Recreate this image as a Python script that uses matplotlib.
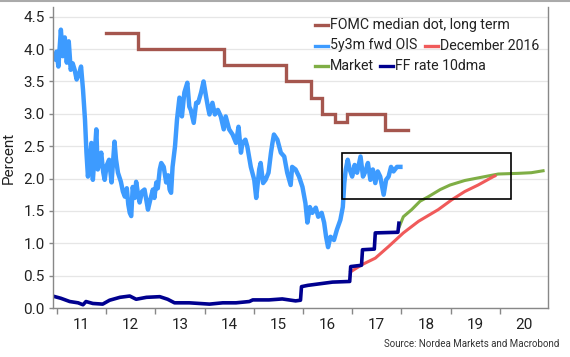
import matplotlib
matplotlib.use("Agg")
import matplotlib.pyplot as plt
from matplotlib.lines import Line2D
from matplotlib.patches import Rectangle

plt.rcParams['font.family'] = ['Roboto', 'DejaVu Sans']

# ---------------- data (decimal years, percent) ----------------
fomc_x = [2012.0, 2012.64, 2012.64, 2014.40, 2014.40, 2015.65, 2015.65, 2016.16, 2016.16,
          2016.38, 2016.38, 2016.65, 2016.65, 2016.89, 2016.89, 2017.66, 2017.66, 2018.13]
fomc_y = [4.25, 4.25, 4.0, 4.0, 3.75, 3.75, 3.5, 3.5, 3.25,
          3.25, 3.0, 3.0, 2.875, 2.875, 3.0, 3.0, 2.75, 2.75]

ois_x = [2010.96, 2010.99, 2011.03, 2011.08, 2011.12, 2011.16, 2011.20, 2011.24, 2011.28, 2011.32,
         2011.36, 2011.40, 2011.45, 2011.49, 2011.53, 2011.57, 2011.60, 2011.63, 2011.67, 2011.70,
         2011.73, 2011.77, 2011.80, 2011.83, 2011.87, 2011.90, 2011.94, 2011.97, 2012.01, 2012.06,
         2012.11, 2012.14, 2012.17, 2012.20, 2012.24, 2012.30, 2012.34, 2012.38, 2012.42, 2012.45,
         2012.48, 2012.51, 2012.54, 2012.58, 2012.61, 2012.65, 2012.68, 2012.73, 2012.78, 2012.81,
         2012.85, 2012.89, 2012.95, 2012.98, 2013.02, 2013.05, 2013.09, 2013.12, 2013.17, 2013.22,
         2013.26, 2013.29, 2013.32, 2013.35, 2013.40, 2013.44, 2013.49, 2013.54, 2013.59, 2013.65,
         2013.69, 2013.72, 2013.78, 2013.83, 2013.87, 2013.93, 2013.98, 2014.03, 2014.07, 2014.10,
         2014.16, 2014.21, 2014.27, 2014.33, 2014.39, 2014.43, 2014.50, 2014.57, 2014.64, 2014.69,
         2014.74, 2014.77, 2014.83, 2014.87, 2014.94, 2015.01, 2015.05, 2015.11, 2015.14, 2015.19,
         2015.24, 2015.30, 2015.35, 2015.38, 2015.41, 2015.48, 2015.55, 2015.62, 2015.68, 2015.75,
         2015.78, 2015.85, 2015.92, 2015.99, 2016.05, 2016.09, 2016.14, 2016.19, 2016.26, 2016.31,
         2016.38, 2016.43, 2016.47, 2016.51, 2016.56, 2016.63, 2016.69, 2016.76, 2016.81, 2016.84,
         2016.87, 2016.91, 2016.95, 2017.00, 2017.05, 2017.10, 2017.17, 2017.22, 2017.27, 2017.32,
         2017.37, 2017.42, 2017.47, 2017.52, 2017.57, 2017.64, 2017.69, 2017.74, 2017.79, 2017.84,
         2017.91, 2017.98]
ois_y = [3.84, 3.96, 3.73, 4.30, 3.89, 4.18, 3.79, 4.12, 3.68, 3.78,
         3.68, 3.53, 3.62, 3.73, 3.37, 2.91, 2.40, 2.03, 2.30, 2.55,
         1.98, 2.40, 2.76, 2.14, 2.25, 2.40, 2.10, 1.98, 2.20, 2.29,
         1.94, 2.25, 2.57, 2.30, 2.09, 1.95, 1.80, 1.72, 1.85, 1.60,
         1.47, 1.42, 1.87, 1.70, 1.95, 1.75, 1.63, 1.80, 1.83, 1.70,
         1.52, 1.65, 1.83, 1.70, 1.94, 1.85, 2.14, 2.24, 2.18, 1.94,
         2.05, 1.83, 1.78, 2.18, 2.50, 2.91, 3.25, 2.96, 3.33, 3.48,
         3.11, 3.06, 2.86, 3.17, 3.17, 3.33, 3.50, 3.27, 3.10, 2.99,
         3.17, 2.99, 3.06, 2.96, 2.76, 2.96, 2.76, 2.68, 2.55, 2.80,
         2.40, 2.55, 2.60, 2.49, 2.18, 1.98, 1.70, 2.14, 2.24, 1.93,
         1.98, 2.09, 2.40, 2.55, 2.68, 2.60, 2.40, 2.34, 2.09, 1.90,
         2.18, 2.14, 2.03, 1.87, 1.62, 1.32, 1.56, 1.47, 1.55, 1.41,
         1.47, 1.32, 1.10, 0.94, 1.10, 1.05, 1.21, 1.36, 1.56, 1.93,
         2.14, 2.29, 2.14, 2.03, 2.21, 2.09, 2.34, 2.03, 2.11, 2.24,
         1.98, 2.14, 1.93, 2.11, 2.03, 1.75, 1.98, 2.03, 2.18, 2.11,
         2.18, 2.18]

dec16_x = [2016.97, 2017.20, 2017.47, 2017.74, 2018.04, 2018.35, 2018.75, 2019.02,
           2019.29, 2019.56, 2019.87, 2019.90]
dec16_y = [0.56, 0.67, 0.77, 0.95, 1.16, 1.34, 1.52, 1.67, 1.80, 1.90, 2.03, 2.04]

market_x = [2017.96, 2018.04, 2018.21, 2018.38, 2018.55, 2018.79, 2018.99, 2019.29,
            2019.63, 2019.97, 2020.37, 2020.64, 2020.88]
market_y = [1.26, 1.41, 1.52, 1.65, 1.72, 1.83, 1.90, 1.97, 2.02, 2.07, 2.08, 2.09, 2.12]

ff_x = [2010.96, 2011.08, 2011.26, 2011.43, 2011.53, 2011.59, 2011.73, 2011.93, 2012.07, 2012.28,
        2012.48, 2012.61, 2012.82, 2013.09, 2013.25, 2013.39, 2013.69, 2014.10, 2014.37, 2014.64,
        2014.91, 2014.98, 2015.31, 2015.58, 2015.85, 2015.95, 2015.97, 2016.10, 2016.40, 2016.60,
        2016.95, 2016.97, 2017.19, 2017.21, 2017.45, 2017.47, 2017.93, 2017.95]
ff_y = [0.175, 0.15, 0.10, 0.08, 0.05, 0.10, 0.07, 0.06, 0.12, 0.165,
        0.185, 0.135, 0.165, 0.175, 0.135, 0.08, 0.08, 0.06, 0.08, 0.08,
        0.10, 0.125, 0.125, 0.14, 0.11, 0.12, 0.33, 0.35, 0.38, 0.40,
        0.41, 0.64, 0.66, 0.90, 0.91, 1.16, 1.17, 1.31]

box_x = [2016.79, 2020.23]
box_y = [1.69, 2.40]

years = list(range(2011, 2021))
year_labels = [str(y)[2:] for y in years]

# ---------------- colours ----------------
c_fomc = '#a5564e'
c_ois = '#3d9bff'
c_dec = '#f05a5a'
c_mkt = '#7fae45'
c_ff = '#00008f'

fig = plt.figure(figsize=(5.70, 3.57), dpi=100)
ax = fig.add_axes([53/570, 1-308/357, 495/570, 301/357])

ax.plot(fomc_x, fomc_y, color=c_fomc, lw=2.4, solid_joinstyle='miter')
ax.plot(ois_x, ois_y, color=c_ois, lw=3.2)
ax.plot(market_x, market_y, color=c_mkt, lw=2.2)
ax.plot(dec16_x, dec16_y, color=c_dec, lw=2.2)
ax.plot(ff_x, ff_y, color=c_ff, lw=2.6)

ax.add_patch(Rectangle((box_x[0], box_y[0]), box_x[1]-box_x[0], box_y[1]-box_y[0],
                       fill=False, edgecolor='black', lw=1.2, zorder=5))

ax.set_xlim(2010.92, 2020.98)
ax.set_ylim(0, 4.65)
ax.set_yticks([0, 0.5, 1.0, 1.5, 2.0, 2.5, 3.0, 3.5, 4.0, 4.5])
ax.set_yticklabels(['0.0', '0.5', '1.0', '1.5', '2.0', '2.5', '3.0', '3.5', '4.0', '4.5'])
ax.set_xticks(years)
ax.set_xticklabels([])
ax.set_xticks([y + 0.5 for y in years], minor=True)
ax.set_xticklabels(year_labels, minor=True)
ax.tick_params(axis='x', which='major', length=4, width=1, color='#888888', direction='out')
ax.tick_params(axis='x', which='minor', length=0, pad=7, labelsize=11, labelcolor='#222222')
ax.tick_params(axis='y', length=3, width=1, color='#888888', labelsize=11, labelcolor='#222222', pad=3)

ax.grid(axis='y', color='#e6e6e6', lw=0.9)
ax.set_axisbelow(True)
ax.spines['top'].set_visible(False)
for s in ['left', 'bottom', 'right']:
    ax.spines[s].set_color('#888888')
    ax.spines[s].set_linewidth(1.0)

ax.set_ylabel('Percent', fontsize=11, color='#222222', labelpad=5)

# ---------------- legend (manual) ----------------
def leg_item(xh, y, color, label):
    fx = lambda px: px / 570
    fy = lambda py: 1 - py / 357
    fig.add_artist(Line2D([fx(xh), fx(xh + 13)], [fy(y), fy(y)], color=color, lw=2.4))
    fig.text(fx(xh + 15), fy(y), label, fontsize=10.2, color='#222222', va='center', ha='left')

leg_item(315, 25, c_fomc, 'FOMC median dot, long term')
leg_item(315, 45.5, c_ois, '5y3m fwd OIS')
leg_item(425, 45.5, c_dec, 'December 2016')
leg_item(315, 66, c_mkt, 'Market')
leg_item(380, 66, c_ff, 'FF rate 10dma')

fig.text(559/570, 1 - 344/357, 'Source: Nordea Markets and Macrobond', fontsize=7.0,
         color='#333333', ha='right', va='center')

fig.add_artist(Line2D([0, 1], [1 - 0.8/357, 1 - 0.8/357], color='#aaaaaa', lw=1.5))

fig.savefig('out.png', dpi=100)
